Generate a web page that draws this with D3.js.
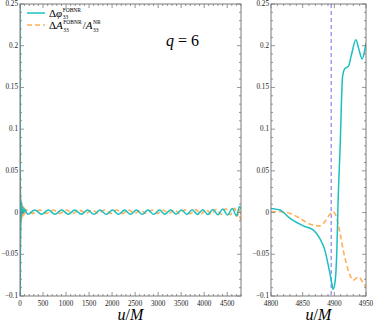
<!DOCTYPE html>
<html>
<head>
  <meta charset="utf-8">
  <title>FOBNR q=6</title>
  <script src="https://d3js.org/d3.v7.min.js"></script>
  <style>
    body { margin: 0; padding: 0; background: white; }
    svg { font-family: "Liberation Serif", "DejaVu Serif", serif; }
    .tick-label { font-size: 7.2px; fill: #222; }
  </style>
</head>
<body>
<div id="chart"></div>
<script>
// ---- data ----
var xTicksLeft = [0, 500, 1000, 1500, 2000, 2500, 3000, 3500, 4000, 4500];
var xTicksRight = [4800, 4850, 4900, 4950];
var yTicks = [-0.1, -0.05, 0, 0.05, 0.1, 0.15, 0.2, 0.25];
var yTickLabels = ["\u22120.1", "\u22120.05", "0", "0.05", "0.1", "0.15", "0.2", "0.25"];
var mergerU = 4895;

// phase difference (u, value)
var phiU = [0, 4, 7, 10, 14, 19, 26, 34, 45, 60, 80, 105, 130,
  170, 320, 470, 615, 760, 905, 1050, 1190, 1330, 1470, 1605, 1740, 1875, 2010,
  2140, 2270, 2400, 2530, 2655, 2780, 2905, 3030, 3150, 3270, 3390, 3510, 3625,
  3740, 3855, 3970, 4080, 4190, 4300, 4405, 4510, 4610, 4705, 4765,
  4800, 4814, 4830, 4851, 4867, 4877, 4885, 4892, 4896, 4898, 4901, 4904, 4906,
  4909, 4913, 4917, 4922, 4927, 4934, 4939, 4944, 4948, 4950];
var phiV = [0.26, 0.12, -0.105, 0.02, -0.03, 0.015, -0.008, 0.012, -0.002, 0.006, 0.0, 0.004, 0.001,
  -0.002, 0.003, -0.002, 0.003, -0.002, 0.003, -0.002, 0.003, -0.002, 0.003, -0.002, 0.003, -0.002, 0.003,
  -0.002, 0.003, -0.002, 0.003, -0.002, 0.003, -0.002, 0.003, -0.002, 0.0032, -0.002, 0.0032, -0.0022,
  0.0034, -0.0022, 0.0035, -0.0024, 0.0037, -0.0026, 0.0042, -0.003, 0.005, -0.004, 0.007,
  0.005, 0.003, -0.007, -0.016, -0.021, -0.031, -0.045, -0.069, -0.085, -0.092, -0.084, -0.045, 0.015,
  0.075, 0.163, 0.173, 0.175, 0.189, 0.207, 0.195, 0.184, 0.195, 0.203];

// relative amplitude difference (u, value)
var ampU = [0, 2, 5, 8, 11, 15, 19, 24, 30, 36, 43, 50, 58, 67, 77, 88, 100, 115,
  130, 280, 430, 575, 720, 865, 1010, 1150, 1290, 1430, 1565, 1700, 1835, 1970,
  2100, 2230, 2360, 2490, 2615, 2740, 2865, 2990, 3110, 3230, 3350, 3470, 3585,
  3700, 3815, 3930, 4040, 4150, 4260, 4365, 4470, 4570, 4665, 4725, 4765, 4785,
  4800, 4814, 4830, 4846, 4862, 4877, 4885, 4892, 4898, 4904, 4909, 4914, 4922,
  4930, 4938, 4946, 4950];
var ampV = [0.21, -0.105, 0.08, -0.04, 0.03, -0.02, 0.016, -0.012, 0.013, -0.008, 0.011, -0.005, 0.009, -0.004, 0.007, -0.003, 0.005, -0.002,
  0.003, -0.001, 0.003, -0.001, 0.003, -0.001, 0.003, -0.001, 0.003, -0.001, 0.003, -0.001, 0.003, -0.001,
  0.003, -0.001, 0.003, -0.001, 0.003, -0.001, 0.003, -0.001, 0.003, -0.0012, 0.0032, -0.0012, 0.0033,
  -0.0013, 0.0035, -0.0015, 0.0037, -0.0017, 0.004, -0.002, 0.0045, -0.0025, 0.005, -0.004, 0.004, -0.008,
  0.001, 0.001, -0.001, -0.007, -0.014, -0.016, -0.011, -0.003, 0.001, -0.007, -0.025, -0.045, -0.069,
  -0.081, -0.077, -0.085, -0.089];

// ---- layout ----
var width = 374, height = 323;
var plotTop = 4, plotBottom = 296;
var leftPanel = { x0: 20, x1: 241, domain: [0, 4800], ticks: xTicksLeft, minor: 100 };
var rightPanel = { x0: 271, x1: 366, domain: [4800, 4950], ticks: xTicksRight, minor: 10 };

var cyan = "#1cbfbf", orange = "#ffae5a", frameColor = "#7a7a7a";

var svg = d3.select("#chart").append("svg")
  .attr("width", width)
  .attr("height", height);

var y = d3.scaleLinear().domain([-0.1, 0.25]).range([plotBottom, plotTop]);

var phiData = phiU.map(function(u, i) { return [u, phiV[i]]; });
var ampData = ampU.map(function(u, i) { return [u, ampV[i]]; });

function drawPanel(p, idx) {
  var x = d3.scaleLinear().domain(p.domain).range([p.x0, p.x1]);
  var g = svg.append("g");

  g.append("clipPath").attr("id", "clip" + idx)
    .append("rect")
      .attr("x", p.x0).attr("y", plotTop)
      .attr("width", p.x1 - p.x0).attr("height", plotBottom - plotTop);

  var line = d3.line()
    .x(function(d) { return x(d[0]); })
    .y(function(d) { return y(d[1]); })
    .curve(d3.curveMonotoneX);

  var plot = g.append("g").attr("clip-path", "url(#clip" + idx + ")");

  if (idx === 1) {
    plot.append("line")
      .attr("x1", x(mergerU)).attr("x2", x(mergerU))
      .attr("y1", plotTop).attr("y2", plotBottom)
      .attr("stroke", "#6b6bf2")
      .attr("stroke-width", 1)
      .attr("stroke-dasharray", "4,3");
  }

  plot.append("path")
    .datum(ampData)
    .attr("d", line)
    .attr("fill", "none")
    .attr("stroke", orange)
    .attr("stroke-width", 1.6)
    .attr("stroke-dasharray", "5,3");

  plot.append("path")
    .datum(phiData)
    .attr("d", line)
    .attr("fill", "none")
    .attr("stroke", cyan)
    .attr("stroke-width", 1.5);

  // frame
  g.append("rect")
    .attr("x", p.x0).attr("y", plotTop)
    .attr("width", p.x1 - p.x0).attr("height", plotBottom - plotTop)
    .attr("fill", "none").attr("stroke", frameColor).attr("stroke-width", 1);

  // x ticks (bottom + top, inward)
  var minorX = d3.range(p.domain[0], p.domain[1] + 0.001, p.minor);
  minorX.forEach(function(u) {
    var major = p.ticks.indexOf(u) >= 0;
    var len = major ? 4 : 2;
    g.append("line").attr("x1", x(u)).attr("x2", x(u))
      .attr("y1", plotBottom).attr("y2", plotBottom - len)
      .attr("stroke", frameColor).attr("stroke-width", 0.8);
    g.append("line").attr("x1", x(u)).attr("x2", x(u))
      .attr("y1", plotTop).attr("y2", plotTop + len)
      .attr("stroke", frameColor).attr("stroke-width", 0.8);
  });
  g.selectAll(".xl").data(p.ticks).enter().append("text")
    .attr("class", "tick-label")
    .attr("x", function(d) { return x(d); })
    .attr("y", plotBottom + 9.5)
    .attr("text-anchor", "middle")
    .text(function(d) { return d; });

  // y ticks (left + right, inward)
  d3.range(-10, 26, 1).forEach(function(k) {
    var v = k / 100;
    var len = (k % 5 === 0) ? 4 : 2;
    g.append("line").attr("x1", p.x0).attr("x2", p.x0 + len)
      .attr("y1", y(v)).attr("y2", y(v))
      .attr("stroke", frameColor).attr("stroke-width", 0.8);
    g.append("line").attr("x1", p.x1).attr("x2", p.x1 - len)
      .attr("y1", y(v)).attr("y2", y(v))
      .attr("stroke", frameColor).attr("stroke-width", 0.8);
  });
  g.selectAll(".yl").data(yTicks).enter().append("text")
    .attr("class", "tick-label")
    .attr("x", p.x0 - 2)
    .attr("y", function(d) { return y(d) + 2; })
    .attr("text-anchor", "end")
    .text(function(d, i) { return yTickLabels[i]; });

  // axis title u/M
  var t = g.append("text")
    .attr("x", (p.x0 + p.x1) / 2)
    .attr("y", 320)
    .attr("text-anchor", "middle")
    .style("font-size", "16px")
    .style("font-style", "italic");
  t.append("tspan").text("u");
  t.append("tspan").style("font-style", "normal").text("/");
  t.append("tspan").text("M");
}

drawPanel(leftPanel, 0);
drawPanel(rightPanel, 1);

// legend
var leg = svg.append("g");
leg.append("line").attr("x1", 27).attr("x2", 45).attr("y1", 13).attr("y2", 13)
  .attr("stroke", cyan).attr("stroke-width", 1.5);
leg.append("line").attr("x1", 27).attr("x2", 45).attr("y1", 25).attr("y2", 25)
  .attr("stroke", orange).attr("stroke-width", 1.6).attr("stroke-dasharray", "5,3");

// a symbol with stacked superscript and subscript; returns the x after it
function symbol(x0, base, main, italicPart, sup, sub) {
  var t = leg.append("text").attr("x", x0).attr("y", base).style("font-size", "11px");
  if (main) t.append("tspan").text(main);
  t.append("tspan").style("font-style", "italic").text(italicPart);
  var w = t.node().getComputedTextLength();
  var xs = x0 + w + 0.5;
  var s1 = leg.append("text").attr("x", xs).attr("y", base - 5).style("font-size", "5.5px").text(sup);
  var s2 = leg.append("text").attr("x", xs).attr("y", base + 2.5).style("font-size", "5.5px").text(sub);
  return xs + Math.max(s1.node().getComputedTextLength(), s2.node().getComputedTextLength());
}

symbol(49, 16.5, "\u0394", "\u03c6", "FOBNR", "33");
var xa = symbol(49, 29, "\u0394", "A", "FOBNR", "33");
var slash = leg.append("text").attr("x", xa + 1).attr("y", 29).style("font-size", "11px").text("/");
symbol(xa + 1 + slash.node().getComputedTextLength(), 29, "", "A", "NR", "33");

// q = 6
var q = svg.append("text").attr("x", 166).attr("y", 46).style("font-size", "16px");
q.append("tspan").style("font-style", "italic").text("q");
q.append("tspan").text(" = 6");
</script>
</body>
</html>
